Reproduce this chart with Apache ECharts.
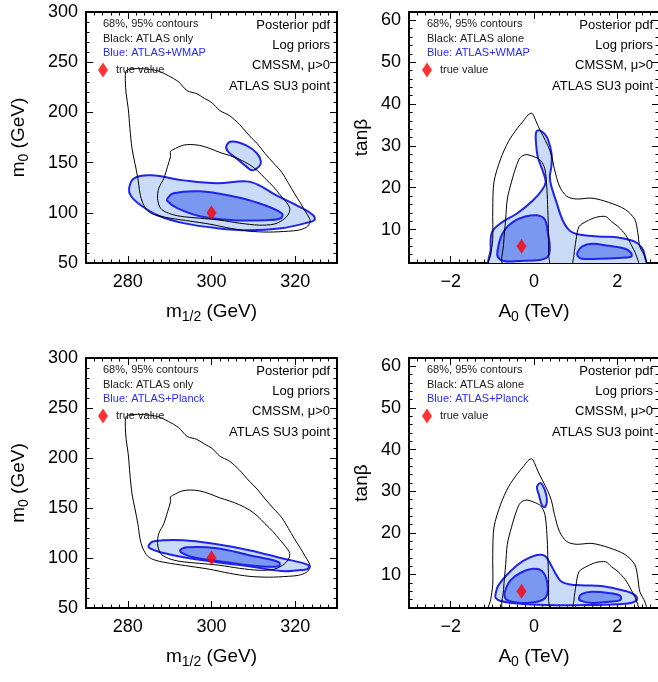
<!DOCTYPE html>
<html>
<head>
<meta charset="utf-8">
<script src="https://cdn.jsdelivr.net/npm/echarts@6/dist/echarts.min.js"></script>
<style>
  html, body { margin: 0; padding: 0; background: #fff; }
  #chart { width: 658px; height: 682px; }
</style>
</head>
<body>
<div id="chart"></div>
<script>
// axis ranges and tick values
const mHalfRange = [270, 330], mHalfTicks = [280, 300, 320], mHalfMinor = 2
const m0Range = [50, 300], m0Ticks = [50, 100, 150, 200, 250, 300], m0Minor = 10
const a0Range = [-3, 3], a0Ticks = [-2, 0, 2], a0Minor = 0.2
const tanbRange = [2, 62], tanbTicks = [10, 20, 30, 40, 50, 60], tanbMinor = 2

// true values (ATLAS SU3 point)
const trueM = [300, 100]
const trueA = [-0.3, 6]

// black contours, ATLAS only (m1/2, m0 plane)
const atlasMOuter = [[279.6,241.5],[280.8,243.4],[283.8,243.4],[287.1,241.5],[289.7,236.5],[292.1,230.5],[294.2,221.6],[296.5,218.6],[298.4,213.7],[300.1,209.7],[302.0,201.8],[304.3,196.8],[306.7,187.9],[309.0,177.0],[310.9,169.0],[312.8,159.1],[314.9,149.2],[316.8,140.3],[318.4,129.4],[319.8,119.4],[321.3,109.5],[322.4,101.6],[323.4,94.6],[323.6,90.7],[322.7,85.7],[320.8,82.7],[318.4,81.7],[313.7,80.8],[309.0,81.7],[304.3,84.7],[299.6,88.7],[294.9,91.7],[290.2,94.6],[286.7,97.6],[284.8,101.6],[283.6,109.5],[282.9,119.4],[282.4,134.3],[281.7,149.2],[281.0,164.1],[280.5,183.9],[280.1,203.8],[279.6,218.6],[279.4,231.5]]
const atlasMInner = [[290.2,161.1],[291.4,164.1],[293.0,167.1],[294.9,168.0],[297.2,167.1],[299.6,164.1],[302.0,160.1],[304.3,157.1],[306.7,153.2],[309.0,148.2],[310.9,142.3],[312.8,134.3],[314.7,126.4],[316.3,118.4],[317.7,111.5],[318.7,104.6],[318.4,98.6],[317.0,92.7],[314.9,88.7],[311.4,87.7],[306.7,89.7],[302.0,92.7],[297.2,94.6],[292.5,96.6],[289.7,99.6],[287.8,104.6],[287.1,114.5],[287.4,124.4],[288.6,134.3],[289.5,146.2],[290.2,156.1]]

// black contours, ATLAS alone (A0, tanb plane)
const atlasAOuter = [[-1.08,1.5],[-1.04,3.95],[-0.99,7.6],[-0.99,14.8],[-0.96,21.4],[-0.80,26.9],[-0.61,31.1],[-0.40,34.2],[-0.26,35.9],[-0.14,37.4],[-0.05,37.8],[0.02,36.6],[0.09,34.9],[0.21,32.5],[0.33,30.1],[0.42,27.7],[0.49,24.5],[0.61,20.4],[0.78,18.0],[1.01,17.3],[1.39,17.5],[1.79,16.5],[2.19,14.8],[2.42,12.4],[2.49,9.3],[2.54,5.9],[2.66,3.5],[2.68,1.5]]
const atlasAInnerL = [[-0.73,1.5],[-0.73,6.4],[-0.68,12.4],[-0.64,17.3],[-0.54,21.4],[-0.42,25.3],[-0.33,27.2],[-0.19,27.9],[0.00,27.4],[0.16,26.5],[0.26,24.5],[0.31,19.7],[0.33,14.8],[0.35,8.8],[0.35,3.9],[0.35,1.5]]
const atlasAInnerR = [[0.96,1.5],[0.96,3.9],[1.01,7.6],[1.08,10.7],[1.25,11.9],[1.48,12.9],[1.72,13.1],[1.86,11.9],[2.02,10.7],[2.19,8.8],[2.33,6.4],[2.45,3.9],[2.49,1.5]]

// blue contours, ATLAS+WMAP
const wmapM95 = [[280.3,124.4],[281.5,134.3],[285.5,137.3],[293.3,132.3],[301.3,129.4],[308.3,131.3],[311.4,127.4],[315.4,117.5],[320.8,106.5],[324.3,97.6],[324.6,92.7],[322.5,89.7],[316.8,84.7],[309.0,82.7],[301.3,84.7],[293.3,89.7],[287.1,97.6],[283.1,107.5],[280.8,116.5]]
const wmapM95b = [[303.6,167.1],[305.0,171.0],[308.3,167.1],[310.9,159.1],[311.8,151.2],[311.4,146.2],[309.7,142.3],[308.3,146.2],[306.0,154.2],[303.9,161.1]]
const wmapM68 = [[289.5,114.5],[290.9,119.4],[297.2,121.4],[305.0,116.5],[311.4,109.5],[316.8,99.6],[316.6,94.6],[313.0,92.7],[305.0,92.7],[297.2,96.6],[291.8,104.6],[289.5,111.5]]
const wmapA95 = [[-1.04,1.5],[-1.04,5.2],[-1.01,9.3],[-0.80,11.5],[-0.40,13.9],[-0.02,17.0],[0.21,19.7],[0.28,21.4],[0.21,24.0],[0.09,27.4],[0.05,30.6],[0.05,33.2],[0.12,33.7],[0.26,32.8],[0.35,31.1],[0.42,28.2],[0.42,25.3],[0.38,22.6],[0.42,20.2],[0.54,16.5],[0.68,12.4],[0.85,9.8],[1.08,8.8],[1.62,8.3],[2.02,8.1],[2.42,7.1],[2.59,5.6],[2.66,3.7],[2.66,1.5]]
const wmapA68L = [[-0.87,5.2],[-0.80,8.1],[-0.68,10.2],[-0.49,11.9],[-0.21,13.1],[0.07,13.4],[0.26,12.4],[0.33,9.3],[0.38,5.6],[0.33,3.5],[0.14,2.7],[-0.33,2.5],[-0.73,2.5],[-0.87,3.5]]
const wmapA68R = [[1.04,4.4],[1.15,5.9],[1.39,6.6],[1.79,6.1],[2.19,5.4],[2.33,4.4],[2.33,3.5],[2.02,3.2],[1.55,3.0],[1.15,3.0],[1.06,3.5]]

// blue contours, ATLAS+Planck
const planckM95 = [[285.0,112.7],[286.2,116.7],[293.3,117.7],[301.3,113.7],[309.0,107.8],[316.8,99.8],[323.2,92.8],[322.9,88.8],[320.8,87.8],[316.8,86.9],[309.0,91.8],[301.3,95.8],[293.3,100.8],[287.8,105.8],[285.2,109.8]]
const planckM68 = [[292.5,107.8],[294.2,110.8],[301.3,109.8],[309.0,102.8],[316.1,95.8],[316.1,91.8],[311.4,91.8],[303.6,95.8],[295.6,100.8],[293.0,104.8]]
const planckA95 = [[-0.92,5.4],[-0.85,7.5],[-0.56,10.9],[-0.26,13.3],[0.07,14.7],[0.26,14.5],[0.38,12.8],[0.54,9.9],[0.68,8.2],[1.01,7.5],[1.62,7.3],[2.19,6.1],[2.45,4.9],[2.45,3.7],[2.19,3.0],[1.25,2.7],[0.31,2.7],[-0.33,3.0],[-0.80,3.7],[-0.92,4.4]]
const planckA95b = [[0.09,31.5],[0.16,32.0],[0.26,30.3],[0.31,27.9],[0.26,26.2],[0.19,26.7],[0.12,29.1],[0.07,30.8]]
const planckA68L = [[-0.71,5.1],[-0.66,7.0],[-0.56,8.7],[-0.33,10.4],[-0.02,11.4],[0.19,10.9],[0.31,8.5],[0.31,5.1],[0.14,3.7],[-0.33,3.2],[-0.64,3.9]]
const planckA68R = [[1.08,4.4],[1.15,5.4],[1.39,5.9],[1.79,5.6],[2.07,4.9],[2.07,3.9],[1.79,3.5],[1.39,3.2],[1.13,3.7]]

const FONT = 'Liberation Sans, Arial, Helvetica, sans-serif'
const LIGHT = '#c9dbf6', DARK = '#7a98ef', BLUE = '#1f24e8'

const grids = [
    {left: 86, top: 12, width: 251, height: 251},
    {left: 409, top: 12, width: 250, height: 251},
    {left: 86, top: 358, width: 251, height: 250},
    {left: 409, top: 358, width: 250, height: 250}
]

const minus = v => String(v).replace('-', '\u2212')

function axisPair(dim, g, range, ticks, minor, side, labels, name, nameGap) {
    let major = {
        gridIndex: g, type: 'value', position: side, min: range[0], max: range[1],
        axisLine: {show: true, onZero: false, lineStyle: {color: '#000', width: 2}},
        axisTick: {show: true, inside: true, length: 7, customValues: ticks, lineStyle: {color: '#000', width: 1}},
        axisLabel: {show: labels, customValues: ticks, formatter: minus, fontFamily: FONT, fontSize: 18, color: '#000', margin: dim == 'x' ? 10 : 8},
        splitLine: {show: false}
    }
    if (name) {
        major.name = name
        major.nameLocation = 'middle'
        major.nameGap = nameGap
        major.nameTextStyle = {
            fontFamily: FONT, fontSize: 19, color: '#000',
            rich: {
                a: {fontFamily: FONT, fontSize: 19, color: '#000'},
                s: {fontFamily: FONT, fontSize: 14, color: '#000', padding: [11, 0, 0, 0]}
            }
        }
    }
    let minorAxis = {
        gridIndex: g, type: 'value', position: side, min: range[0], max: range[1], interval: minor,
        axisLine: {show: false, onZero: false},
        axisTick: {show: true, inside: true, length: 3.5, lineStyle: {color: '#000', width: 1}},
        axisLabel: {show: false},
        splitLine: {show: false}
    }
    return [major, minorAxis]
}

// 4 x axes and 4 y axes per grid: bottom/left major+minor, top/right major+minor
let xAxes = [], yAxes = []
const panels = [
    {x: [mHalfRange, mHalfTicks, mHalfMinor, '{a|m}{s|1/2}{a| (GeV)}'], y: [m0Range, m0Ticks, m0Minor, '{a|m}{s|0}{a| (GeV)}', 55]},
    {x: [a0Range, a0Ticks, a0Minor, '{a|A}{s|0}{a| (TeV)}'], y: [tanbRange, tanbTicks, tanbMinor, '{a|tan\u03b2}', 38]},
    {x: [mHalfRange, mHalfTicks, mHalfMinor, '{a|m}{s|1/2}{a| (GeV)}'], y: [m0Range, m0Ticks, m0Minor, '{a|m}{s|0}{a| (GeV)}', 55]},
    {x: [a0Range, a0Ticks, a0Minor, '{a|A}{s|0}{a| (TeV)}'], y: [tanbRange, tanbTicks, tanbMinor, '{a|tan\u03b2}', 38]}
]
panels.forEach((p, g) => {
    xAxes.push(...axisPair('x', g, p.x[0], p.x[1], p.x[2], 'bottom', true, p.x[3], 36))
    xAxes.push(...axisPair('x', g, p.x[0], p.x[1], p.x[2], 'top', false))
    yAxes.push(...axisPair('y', g, p.y[0], p.y[1], p.y[2], 'left', true, p.y[3], p.y[4]))
    yAxes.push(...axisPair('y', g, p.y[0], p.y[1], p.y[2], 'right', false))
})

function contour(g, pts, fill, stroke, lw, smooth) {
    return {
        type: 'custom', xAxisIndex: g * 4, yAxisIndex: g * 4, clip: true, silent: true,
        data: pts, encode: {x: 0, y: 1},
        renderItem: function (params, api) {
            if (params.dataIndex !== 0) return null
            return {
                type: 'polygon',
                shape: {points: pts.map(p => api.coord(p)), smooth: smooth},
                style: {fill: fill, stroke: stroke, lineWidth: lw}
            }
        }
    }
}

function truePoint(g, pt) {
    return {
        type: 'scatter', name: 'true value', xAxisIndex: g * 4, yAxisIndex: g * 4,
        data: [pt], symbol: 'diamond', symbolSize: [10, 15], z: 10,
        itemStyle: {color: '#ff0000'}, silent: true
    }
}

let series = []
const blueSets = [
    [[wmapM95, wmapM95b], [wmapM68]],
    [[wmapA95], [wmapA68L, wmapA68R]],
    [[planckM95], [planckM68]],
    [[planckA95, planckA95b], [planckA68L, planckA68R]]
]
const blackSets = [
    [atlasMOuter, atlasMInner],
    [atlasAOuter, atlasAInnerL, atlasAInnerR],
    [atlasMOuter, atlasMInner],
    [atlasAOuter, atlasAInnerL, atlasAInnerR]
]
for (var g = 0; g < 4; g++) {
    blueSets[g][0].forEach(c => series.push(contour(g, c, LIGHT, BLUE, 2, 0.4)))
    blueSets[g][1].forEach(c => series.push(contour(g, c, DARK, BLUE, 2, 0.4)))
    blackSets[g].forEach(c => series.push(contour(g, c, 'none', '#000', 1, 0.3)))
    series.push(truePoint(g, g % 2 == 0 ? trueM : trueA))
}

// text boxes in each panel
const blueLabels = ['Blue: ATLAS+WMAP', 'Blue: ATLAS+WMAP', 'Blue: ATLAS+Planck', 'Blue: ATLAS+Planck']
const blackLabels = ['Black: ATLAS only', 'Black: ATLAS alone', 'Black: ATLAS only', 'Black: ATLAS alone']
const rightLines = ['Posterior pdf', 'Log priors', 'CMSSM, \u03bc>0', 'ATLAS SU3 point']
const leftX = [103, 427, 103, 427]
const rightX = [330, 653, 330, 653]
const rowTop = [0, 0, 346, 346]

function txt(x, y, s, size, color, align) {
    return {
        type: 'text', x: x, y: y, silent: true,
        style: {text: s, font: size + 'px ' + FONT, fill: color, textAlign: align, align: align, textVerticalAlign: 'middle', verticalAlign: 'middle'}
    }
}

let graphics = []
let legends = []
for (var g = 0; g < 4; g++) {
    let t = rowTop[g]
    graphics.push(txt(leftX[g], t + 24, '68%, 95% contours', 11, '#1a1a1a', 'left'))
    graphics.push(txt(leftX[g], t + 38.5, blackLabels[g], 11, '#1a1a1a', 'left'))
    graphics.push(txt(leftX[g], t + 53, blueLabels[g], 11, '#2a2aff', 'left'))
    rightLines.forEach((s, i) => graphics.push(txt(rightX[g], t + [25, 45, 65, 86][i], s, 13, '#000', 'right')))
    legends.push({
        left: leftX[g] - 5, top: t + 62.5, padding: 0, itemGap: 0,
        data: ['true value'], icon: 'diamond', itemWidth: 10, itemHeight: 15, selectedMode: false,
        textStyle: {fontFamily: FONT, fontSize: 11, color: '#1a1a1a', padding: [0, 0, 0, 3]}
    })
}

var chart = echarts.init(document.getElementById('chart'), null, {renderer: 'canvas'})
chart.setOption({
    animation: false,
    backgroundColor: '#fff',
    grid: grids.map(r => Object.assign({outerBoundsMode: 'none'}, r)),
    xAxis: xAxes,
    yAxis: yAxes,
    legend: legends,
    series: series,
    graphic: graphics
})
</script>
</body>
</html>
